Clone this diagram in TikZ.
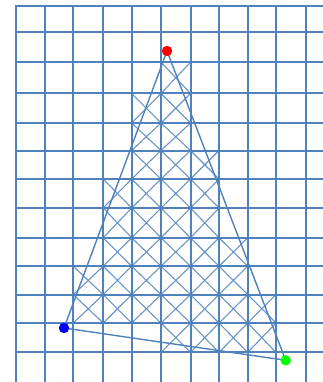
\documentclass[tikz,border=0pt]{standalone}
\definecolor{gridblue}{RGB}{79,129,189}
\definecolor{dotgreen}{RGB}{0,255,0}
\begin{document}
\begin{tikzpicture}[x=1pt,y=-1pt,
  gridline/.style={draw=gridblue, line width=2pt, line cap=rect},
  hatch/.style={draw=gridblue!85, line width=1.1pt},
  triedge/.style={draw=gridblue, line width=1.4pt}]
\useasboundingbox (0,0) rectangle (323,382);
\def\xarr{{16,45,73.3,103.2,131.7,161,190.5,219,247.7,276,305.8}}
\def\yarr{{6,32.3,62.2,93.5,123,150.5,179,208,237.8,266.2,294.6,323,352.4}}
% hatching of cells inside the triangle
\foreach \r/\a/\b in {2/5/5,3/4/5,4/4/5,5/4/6,6/3/6,7/3/6,8/3/7,9/2/7,10/2/8,11/5/8}{
  \foreach \c in {\a,...,\b}{
    \pgfmathsetmacro\xl{\xarr[\c]}
    \pgfmathsetmacro\xr{\xarr[\c+1]}
    \pgfmathsetmacro\yt{\yarr[\r]}
    \pgfmathsetmacro\yb{\yarr[\r+1]}
    \draw[hatch] (\xl,\yt) -- (\xr,\yb) (\xr,\yt) -- (\xl,\yb);
  }
}
% grid
\foreach \x in {16,45,73.3,103.2,131.7,161,190.5,219,247.7,276,305.8}
  \draw[gridline] (\x,6) -- (\x,384);
\foreach \y in {6,32.3,62.2,93.5,123,150.5,179,208,237.8,266.2,294.6,323,352.4}
  \draw[gridline] (16,\y) -- (325,\y);
% triangle
\coordinate (R) at (167,51);
\coordinate (B) at (64,328);
\coordinate (G) at (285.7,360.3);
\draw[triedge] (R) -- (B) -- (G) -- cycle;
\fill[red] (R) circle (5.2);
\fill[blue] (B) circle (5.2);
\fill[dotgreen] (G) circle (5.2);
\end{tikzpicture}
\end{document}
